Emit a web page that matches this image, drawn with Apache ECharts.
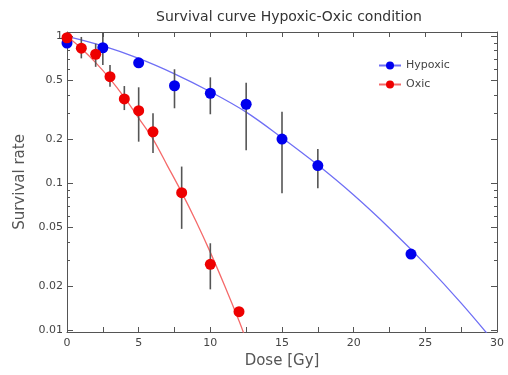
<!DOCTYPE html>
<html>
<head>
<meta charset="utf-8">
<script src="https://cdn.jsdelivr.net/npm/echarts@6/dist/echarts.min.js"></script>
<style>html,body{margin:0;padding:0;background:#fff;}#c{width:508px;height:375px;}</style>
</head>
<body>
<div id="c"></div>
<script>
// ---- data ----
const doseHyp = [0, 2.5, 5, 7.5, 10, 12.5, 15, 17.5, 24];
const survHyp = [0.90, 0.836, 0.66, 0.461, 0.41, 0.345, 0.20, 0.132, 0.033];
const errLoHyp = [null, 0.638, null, 0.324, 0.295, 0.168, 0.0855, 0.0925, null];
const errHiHyp = [null, 1.07, null, 0.597, 0.526, 0.483, 0.307, 0.171, null];

const doseOx = [0, 1, 2, 3, 4, 5, 6, 8, 10, 12];
const survOx = [0.978, 0.83, 0.755, 0.531, 0.375, 0.312, 0.224, 0.0863, 0.0281, 0.0134];
const errLoOx = [null, 0.708, 0.62, 0.454, 0.315, 0.192, 0.161, 0.049, 0.019, null];
const errHiOx = [null, 0.99, 0.89, 0.638, 0.459, 0.45, 0.30, 0.13, 0.0391, null];

const fitDoseHyp = [0, 2.5, 5, 7.5, 10, 12.5, 15, 17.5, 20, 22.5, 25, 27.5, 30];
const fitHyp = [1.0, 0.861, 0.708, 0.556, 0.42, 0.305, 0.204, 0.133, 0.0832, 0.0495, 0.0282, 0.0153, 0.0079];

const fitDoseOx = [0, 1, 2, 3, 4, 5, 6, 7, 8, 9, 10, 11, 12, 12.5];
const fitOx = [1.0, 0.827, 0.662, 0.513, 0.384, 0.278, 0.2, 0.132, 0.0868, 0.0552, 0.0339, 0.0201, 0.0116, 0.0086];

const yLabelTicks = [0.01, 0.02, 0.05, 0.1, 0.2, 0.5, 1];
const yMinorTicks = [0.03, 0.04, 0.06, 0.07, 0.08, 0.09, 0.3, 0.4, 0.6, 0.7, 0.8, 0.9];
const xLabelTicks = [0, 5, 10, 15, 20, 25, 30];

const yMinVal = 0.00974, yMaxVal = 1.07;

// ---- helpers ----
const L = v => Math.log10(v);
const pairs = (xs, ys) => xs.map((x, i) => [x, L(ys[i])]);
const errData = (xs, lo, hi) => xs.map((x, i) => lo[i] == null ? null : [x, L(lo[i]), L(hi[i])]).filter(d => d);

const FONT = 'DejaVu Sans';
const axisColor = '#555';

function yAxisDef(pos, major, withLabels) {
  return {
    type: 'value', min: L(yMinVal), max: L(yMaxVal), position: pos,
    axisLine: { show: major, lineStyle: { color: axisColor, width: 1 } },
    axisTick: { show: true, inside: true, length: major ? 6 : 3,
      customValues: (major ? yLabelTicks : yMinorTicks).map(L),
      lineStyle: { color: axisColor } },
    axisLabel: withLabels ? {
      show: true, customValues: yLabelTicks.map(L), margin: 4,
      formatter: v => String(parseFloat(Math.pow(10, v).toPrecision(2))),
      fontFamily: FONT, fontSize: 11, color: '#444'
    } : { show: false },
    splitLine: { show: false },
    name: withLabels ? 'Survival rate' : '',
    nameLocation: 'middle', nameGap: 28,
    nameTextStyle: { fontFamily: FONT, fontSize: 15, color: '#555' }
  };
}

function xAxisDef(pos, withLabels) {
  return {
    type: 'value', min: 0, max: 30, interval: 2.5, position: pos,
    axisLine: { show: true, onZero: false, lineStyle: { color: axisColor, width: 1 } },
    axisTick: { show: true, inside: true, length: 5, lineStyle: { color: axisColor } },
    axisLabel: withLabels ? {
      show: true, customValues: xLabelTicks, margin: 6,
      fontFamily: FONT, fontSize: 11, color: '#444'
    } : { show: false },
    splitLine: { show: false },
    name: withLabels ? 'Dose [Gy]' : '',
    nameLocation: 'middle', nameGap: 22,
    nameTextStyle: { fontFamily: FONT, fontSize: 15, color: '#555' }
  };
}

function errSeries(data, name) {
  return {
    type: 'custom', name: name, data: data, z: 3, clip: true,
    renderItem: (params, api) => {
      const p1 = api.coord([api.value(0), api.value(1)]);
      const p2 = api.coord([api.value(0), api.value(2)]);
      return { type: 'line', shape: { x1: p1[0], y1: p1[1], x2: p2[0], y2: p2[1] },
        style: { stroke: '#555', lineWidth: 1.6 } };
    }
  };
}

const chart = echarts.init(document.getElementById('c'), null, { renderer: 'canvas' });
chart.setOption({
  animation: false,
  backgroundColor: '#fff',
  title: {
    text: 'Survival curve Hypoxic-Oxic condition', left: 284, top: 5, textAlign: 'center',
    textStyle: { fontFamily: FONT, fontSize: 14, fontWeight: 'normal', color: '#333' }
  },
  legend: {
    data: ['Hypoxic', 'Oxic'], orient: 'vertical', left: 373, top: 55,
    itemWidth: 22, itemHeight: 10, itemGap: 8,
    textStyle: { fontFamily: FONT, fontSize: 11, color: '#444' }
  },
  grid: { left: 67, right: 11, top: 32, bottom: 43, containLabel: false },
  xAxis: [xAxisDef('bottom', true), xAxisDef('top', false)],
  yAxis: [yAxisDef('left', true, true), yAxisDef('left', false, false),
          yAxisDef('right', true, false), yAxisDef('right', false, false)],
  series: [
    { type: 'line', name: 'Hypoxic', data: pairs(fitDoseHyp, fitHyp), smooth: 0.35,
      symbol: 'circle', symbolSize: 9, showSymbol: false, clip: true, z: 2,
      lineStyle: { color: '#6f6ff5', width: 1.3 }, itemStyle: { color: '#0000ee' } },
    { type: 'line', name: 'Oxic', data: pairs(fitDoseOx, fitOx), smooth: 0.35,
      symbol: 'circle', symbolSize: 9, showSymbol: false, clip: true, z: 2,
      lineStyle: { color: '#f56a6a', width: 1.3 }, itemStyle: { color: '#ee0000' } },
    errSeries(errData(doseHyp, errLoHyp, errHiHyp), 'Hypoxic err'),
    errSeries(errData(doseOx, errLoOx, errHiOx), 'Oxic err'),
    { type: 'scatter', name: 'Hypoxic pts', data: pairs(doseHyp, survHyp), symbolSize: 11, z: 4,
      itemStyle: { color: '#0000ee', opacity: 1 } },
    { type: 'scatter', name: 'Oxic pts', data: pairs(doseOx, survOx), symbolSize: 11, z: 5,
      itemStyle: { color: '#ee0000', opacity: 1 } }
  ]
});
</script>
</body>
</html>
